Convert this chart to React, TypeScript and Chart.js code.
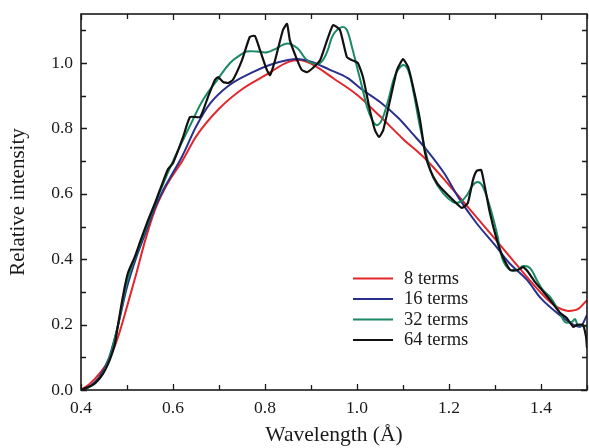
import { useEffect, useRef } from "react";
import { Chart, registerables } from "chart.js";

Chart.register(...registerables);

// ---- tick definitions ----
const xMajorTicks = [0.4, 0.6, 0.8, 1.0, 1.2, 1.4];
const xMinorTicks = [0.5, 0.7, 0.9, 1.1, 1.3, 1.5];
const yMajorTicks = [0.0, 0.2, 0.4, 0.6, 0.8, 1.0];
const yMinorTicks = [0.1, 0.3, 0.5, 0.7, 0.9, 1.1];

const seriesLabels = ["8 terms", "16 terms", "32 terms", "64 terms"];

// ---- 8 terms ----
const terms8X = [0.40, 0.42, 0.44, 0.46, 0.48, 0.50, 0.52, 0.54, 0.56, 0.58, 0.60, 0.62, 0.65, 0.70, 0.75, 0.80, 0.85, 0.875, 0.90, 0.95, 1.00, 1.05, 1.10, 1.15, 1.20, 1.25, 1.30, 1.35, 1.40, 1.43, 1.46, 1.48, 1.50];
const terms8Y = [0.000, 0.020, 0.050, 0.090, 0.160, 0.255, 0.355, 0.460, 0.548, 0.610, 0.658, 0.700, 0.775, 0.860, 0.920, 0.962, 1.003, 1.009, 0.998, 0.952, 0.903, 0.837, 0.768, 0.705, 0.627, 0.545, 0.462, 0.378, 0.297, 0.258, 0.242, 0.247, 0.275];

// ---- 16 terms ----
const terms16X = [0.40, 0.42, 0.44, 0.46, 0.48, 0.50, 0.52, 0.54, 0.56, 0.58, 0.60, 0.62, 0.65, 0.68, 0.72, 0.77, 0.81, 0.85, 0.87, 0.90, 0.94, 0.98, 1.01, 1.05, 1.09, 1.12, 1.15, 1.19, 1.22, 1.26, 1.30, 1.33, 1.37, 1.40, 1.44, 1.47, 1.485, 1.50];
const terms16Y = [0.000, 0.012, 0.040, 0.095, 0.195, 0.315, 0.405, 0.480, 0.555, 0.615, 0.665, 0.715, 0.805, 0.875, 0.930, 0.970, 0.994, 1.009, 1.012, 1.004, 0.980, 0.954, 0.920, 0.881, 0.832, 0.785, 0.737, 0.662, 0.590, 0.510, 0.443, 0.390, 0.336, 0.280, 0.230, 0.200, 0.193, 0.229];

// ---- 32 terms ----
const terms32X = [0.400, 0.420, 0.440, 0.460, 0.480, 0.500, 0.520, 0.540, 0.560, 0.580, 0.600, 0.622, 0.643, 0.665, 0.696, 0.724, 0.746, 0.760, 0.783, 0.805, 0.825, 0.848, 0.870, 0.887, 0.902, 0.920, 0.935, 0.948, 0.967, 0.978, 0.989, 1.000, 1.011, 1.022, 1.033, 1.043, 1.054, 1.068, 1.083, 1.100, 1.111, 1.122, 1.137, 1.152, 1.165, 1.187, 1.209, 1.224, 1.239, 1.252, 1.263, 1.274, 1.289, 1.304, 1.317, 1.333, 1.348, 1.361, 1.376, 1.391, 1.404, 1.420, 1.441, 1.452, 1.467, 1.474, 1.480, 1.496, 1.500];
const terms32Y = [0.000, 0.010, 0.035, 0.090, 0.195, 0.330, 0.415, 0.490, 0.565, 0.635, 0.700, 0.765, 0.826, 0.887, 0.948, 1.000, 1.024, 1.035, 1.035, 1.033, 1.045, 1.060, 1.046, 1.015, 1.000, 1.000, 1.034, 1.086, 1.110, 1.101, 1.049, 0.988, 0.927, 0.865, 0.826, 0.810, 0.826, 0.887, 0.963, 0.994, 0.979, 0.917, 0.804, 0.713, 0.651, 0.602, 0.575, 0.575, 0.596, 0.627, 0.636, 0.621, 0.560, 0.480, 0.398, 0.367, 0.367, 0.379, 0.373, 0.336, 0.306, 0.284, 0.236, 0.208, 0.208, 0.217, 0.199, 0.196, 0.193];

// ---- 64 terms ----
const terms64X = [0.400, 0.410, 0.425, 0.437, 0.448, 0.459, 0.467, 0.474, 0.480, 0.487, 0.495, 0.502, 0.510, 0.517, 0.530, 0.546, 0.561, 0.574, 0.589, 0.600, 0.609, 0.622, 0.637, 0.659, 0.676, 0.691, 0.698, 0.709, 0.720, 0.730, 0.750, 0.767, 0.778, 0.789, 0.804, 0.811, 0.822, 0.839, 0.848, 0.854, 0.870, 0.880, 0.891, 0.904, 0.920, 0.935, 0.948, 0.963, 0.978, 0.989, 1.002, 1.013, 1.028, 1.039, 1.048, 1.057, 1.072, 1.087, 1.100, 1.111, 1.122, 1.137, 1.148, 1.159, 1.174, 1.187, 1.209, 1.228, 1.241, 1.252, 1.260, 1.270, 1.278, 1.289, 1.304, 1.317, 1.333, 1.350, 1.361, 1.372, 1.387, 1.402, 1.420, 1.441, 1.456, 1.470, 1.478, 1.491, 1.498, 1.500];
const terms64Y = [0.000, 0.006, 0.015, 0.030, 0.050, 0.080, 0.110, 0.143, 0.195, 0.254, 0.315, 0.358, 0.385, 0.407, 0.459, 0.520, 0.572, 0.621, 0.675, 0.694, 0.725, 0.774, 0.835, 0.835, 0.896, 0.948, 0.957, 0.942, 0.939, 0.948, 1.009, 1.080, 1.083, 1.040, 0.979, 0.963, 1.009, 1.101, 1.120, 1.070, 1.009, 0.979, 0.972, 0.985, 1.009, 1.070, 1.116, 1.101, 1.018, 1.009, 1.000, 0.957, 0.856, 0.795, 0.774, 0.795, 0.887, 0.979, 1.012, 0.988, 0.927, 0.826, 0.725, 0.673, 0.633, 0.612, 0.581, 0.557, 0.572, 0.642, 0.670, 0.673, 0.621, 0.541, 0.459, 0.407, 0.367, 0.367, 0.376, 0.361, 0.330, 0.306, 0.275, 0.236, 0.220, 0.193, 0.199, 0.199, 0.162, 0.128];

const zip = (xs: number[], ys: number[]) => xs.map((x, i) => ({ x, y: ys[i] }));

const COLORS = ["#e3262b", "#2a2f8c", "#1a8a62", "#111111"];
const FONT = "'Liberation Serif', 'DejaVu Serif', 'Times New Roman', serif";

const framePlugin = {
  id: "frameTicks",
  afterDatasetsDraw(chart: any) {
    const { ctx, chartArea: a, scales } = chart;
    const xs = scales.x;
    const ys = scales.y;
    ctx.save();
    ctx.strokeStyle = "#1a1a1a";
    ctx.lineWidth = 1.6;
    ctx.strokeRect(a.left, a.top, a.right - a.left, a.bottom - a.top);
    ctx.lineWidth = 1.3;
    const drawX = (vals: number[], len: number) => {
      vals.forEach((v) => {
        const px = Math.round(xs.getPixelForValue(v)) + 0.5;
        ctx.beginPath();
        ctx.moveTo(px, a.bottom);
        ctx.lineTo(px, a.bottom - len);
        ctx.moveTo(px, a.top);
        ctx.lineTo(px, a.top + len);
        ctx.stroke();
      });
    };
    const drawY = (vals: number[], len: number) => {
      vals.forEach((v) => {
        const py = Math.round(ys.getPixelForValue(v)) + 0.5;
        ctx.beginPath();
        ctx.moveTo(a.left, py);
        ctx.lineTo(a.left + len, py);
        ctx.moveTo(a.right, py);
        ctx.lineTo(a.right - len, py);
        ctx.stroke();
      });
    };
    drawX(xMajorTicks, 6);
    drawX(xMinorTicks, 5);
    drawY(yMajorTicks, 6);
    drawY(yMinorTicks, 5);
    ctx.restore();
  },
  afterDraw(chart: any) {
    const { ctx } = chart;
    const rowsY = [278.5, 299, 319.5, 340];
    ctx.save();
    ctx.font = `18.5px ${FONT}`;
    ctx.textBaseline = "middle";
    ctx.textAlign = "left";
    chart.data.datasets.forEach((ds: any, i: number) => {
      const y = rowsY[i];
      ctx.strokeStyle = ds.borderColor;
      ctx.lineWidth = 2.2;
      ctx.beginPath();
      ctx.moveTo(353, y);
      ctx.lineTo(393, y);
      ctx.stroke();
      ctx.fillStyle = "#1a1a1a";
      ctx.fillText(ds.label, 404, y + 0.5);
    });
    ctx.restore();
  },
};

export default function App() {
  const ref = useRef<HTMLCanvasElement | null>(null);

  useEffect(() => {
    document.body.style.margin = "0";
    const canvas = ref.current;
    if (!canvas) return;
    const seriesX = [terms8X, terms16X, terms32X, terms64X];
    const seriesY = [terms8Y, terms16Y, terms32Y, terms64Y];
    const chart = new Chart(canvas, {
      type: "line",
      data: {
        datasets: seriesLabels.map((label, i) => ({
          label,
          data: zip(seriesX[i], seriesY[i]),
          borderColor: COLORS[i],
          backgroundColor: COLORS[i],
          borderWidth: i === 3 ? 2.2 : 2,
          pointRadius: 0,
          fill: false,
          tension: i === 3 ? 0.15 : 0.4,
          cubicInterpolationMode: i < 2 ? "monotone" : "default",
          order: 3 - i,
        })),
      },
      options: {
        animation: false,
        responsive: false,
        maintainAspectRatio: false,
        events: [],
        layout: { autoPadding: false, padding: { left: 0, right: 2, top: 14, bottom: 0 } },
        plugins: {
          legend: { display: false },
          tooltip: { enabled: false },
        },
        scales: {
          x: {
            type: "linear",
            min: 0.4,
            max: 1.5,
            grid: { display: false, drawTicks: false },
            border: { display: false },
            afterBuildTicks: (s: any) => {
              s.ticks = xMajorTicks.map((v) => ({ value: v }));
            },
            afterFit: (s: any) => {
              s.height = 58;
              s.paddingLeft = 0;
              s.paddingRight = 0;
            },
            ticks: {
              color: "#1a1a1a",
              font: { family: FONT, size: 17.5 },
              padding: 8,
              maxRotation: 0,
              autoSkip: false,
              callback: (v: any) => Number(v).toFixed(1),
            },
            title: {
              display: true,
              text: "Wavelength (Å)",
              color: "#1a1a1a",
              font: { family: FONT, size: 21.5 },
              padding: { top: 0, bottom: 0 },
            },
          },
          y: {
            type: "linear",
            min: 0,
            max: 1.15,
            grid: { display: false, drawTicks: false },
            border: { display: false },
            afterBuildTicks: (s: any) => {
              s.ticks = yMajorTicks.map((v) => ({ value: v }));
            },
            afterFit: (s: any) => {
              s.width = 81;
              s.paddingTop = 0;
              s.paddingBottom = 0;
            },
            ticks: {
              color: "#1a1a1a",
              font: { family: FONT, size: 17.5 },
              padding: 8,
              autoSkip: false,
              callback: (v: any) => Number(v).toFixed(1),
            },
            title: {
              display: true,
              text: "Relative intensity",
              color: "#1a1a1a",
              font: { family: FONT, size: 21 },
              padding: { top: 6, bottom: 0 },
            },
          },
        },
      },
      plugins: [framePlugin],
    });
    return () => chart.destroy();
  }, []);

  return (
    <canvas
      ref={ref}
      width={589}
      height={448}
      style={{ display: "block", width: "589px", height: "448px" }}
    />
  );
}
